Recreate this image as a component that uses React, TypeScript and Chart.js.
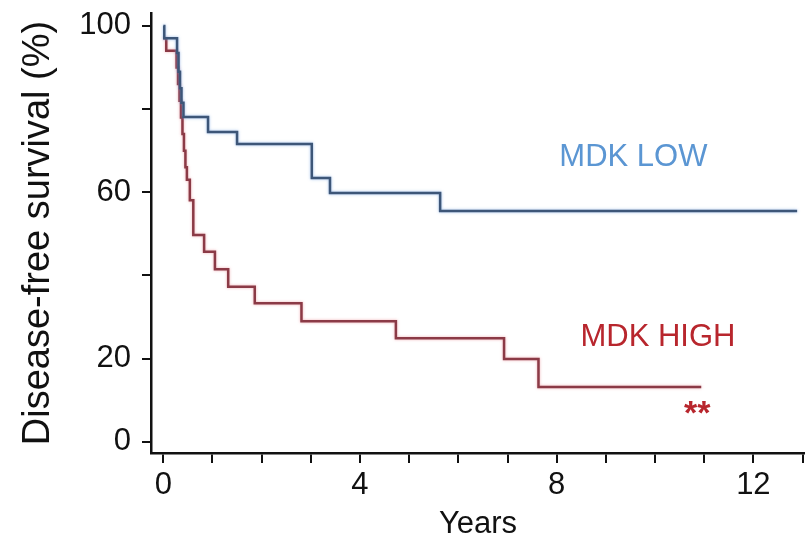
import { useEffect, useRef } from 'react';
import { Chart, registerables } from 'chart.js';

Chart.register(...registerables);

// Kaplan–Meier step data (time in years, survival %)
const lowTimes = [0, 0.02, 0.28, 0.31, 0.34, 0.37, 0.41, 0.91, 1.5, 3.02, 3.39, 5.63, 12.89];
const lowSurvival = [100, 97, 93.5, 89, 85, 81.5, 78.1, 74.5, 71.6, 63.4, 59.8, 55.5, 55.5];

const highTimes = [0, 0.06, 0.27, 0.3, 0.33, 0.36, 0.39, 0.42, 0.45, 0.48, 0.54, 0.61, 0.83, 1.05, 1.32, 1.86, 2.81, 4.73, 6.93, 7.63, 10.94];
const highSurvival = [97, 94, 90, 86, 82, 78, 74, 70, 66, 63, 58.1, 49.7, 45.7, 41.5, 37.3, 33.3, 29.0, 24.9, 19.9, 13.2, 13.2];

const xTickValues = [0, 1, 2, 3, 4, 5, 6, 7, 8, 9, 10, 11, 12, 13];
const xTickLabels = ['0', '', '', '', '4', '', '', '', '8', '', '', '', '12', ''];
const yTickValues = [0, 20, 40, 60, 80, 100];
const yTickLabels = ['0', '20', '', '60', '', '100'];

const groupNames = ['MDK LOW', 'MDK HIGH'];
const significanceText = '**';

const FONT = '"Liberation Sans", Arial, Helvetica, sans-serif';

const LOW_LINE = '#3d5678';
const HIGH_LINE = '#8b3a46';
const LOW_TEXT = '#5b96d3';
const HIGH_TEXT = '#b8262d';

const haloPlugin = {
  id: 'halo',
  beforeDatasetDraw(chart: any, args: any) {
    const ctx = chart.ctx;
    ctx.save();
    ctx.shadowColor = args.index === 0 ? 'rgba(110,160,225,0.7)' : 'rgba(230,120,130,0.6)';
    ctx.shadowBlur = 3;
  },
  afterDatasetDraw(chart: any) {
    chart.ctx.restore();
  },
};

const labelPlugin = {
  id: 'kmLabels',
  afterDatasetsDraw(chart: any) {
    const { ctx, scales } = chart;
    const x = scales.x;
    const y = scales.y;
    ctx.save();
    ctx.textAlign = 'center';
    ctx.textBaseline = 'middle';
    ctx.font = '31px ' + FONT;
    ctx.fillStyle = LOW_TEXT;
    ctx.fillText(groupNames[0], x.getPixelForValue(9.56), y.getPixelForValue(68.4));
    ctx.fillStyle = HIGH_TEXT;
    ctx.fillText(groupNames[1], x.getPixelForValue(10.06), y.getPixelForValue(25.1));
    ctx.font = 'bold 34px ' + FONT;
    ctx.textBaseline = 'alphabetic';
    ctx.fillText(significanceText, x.getPixelForValue(10.86), y.getPixelForValue(7.9) + 15);
    ctx.restore();
  },
};

export default function App() {
  const ref = useRef<HTMLCanvasElement | null>(null);

  useEffect(() => {
    const canvas = ref.current;
    if (!canvas) return;
    const chart = new Chart(canvas, {
      type: 'line',
      data: {
        datasets: [
          {
            label: groupNames[0],
            data: lowTimes.map((t, i) => ({ x: t, y: lowSurvival[i] })),
            borderColor: LOW_LINE,
            borderWidth: 2.5,
            stepped: 'before',
            pointRadius: 0,
            fill: false,
          },
          {
            label: groupNames[1],
            data: highTimes.map((t, i) => ({ x: t, y: highSurvival[i] })),
            borderColor: HIGH_LINE,
            borderWidth: 2.5,
            stepped: 'before',
            pointRadius: 0,
            fill: false,
          },
        ],
      },
      options: {
        responsive: false,
        animation: false,
        devicePixelRatio: 1,
        layout: { padding: { top: 13, left: 0, right: 0, bottom: 0 } },
        plugins: {
          legend: { display: false },
          tooltip: { enabled: false },
        },
        scales: {
          x: {
            type: 'linear',
            min: -0.25,
            max: 13.05,
            afterBuildTicks: (axis: any) => {
              axis.ticks = xTickValues.map((v) => ({ value: v }));
            },
            afterFit: (scale: any) => {
              scale.height = 91;
              scale.paddingLeft = 0;
              scale.paddingRight = 0;
            },
            ticks: {
              autoSkip: false,
              maxRotation: 0,
              padding: 7,
              color: '#111',
              font: { family: FONT, size: 31, lineHeight: 1 },
              callback: (v: any) => {
                const i = xTickValues.indexOf(Number(v));
                return i >= 0 ? xTickLabels[i] : '';
              },
            },
            grid: {
              drawOnChartArea: false,
              drawTicks: true,
              tickLength: 10,
              color: '#111',
              lineWidth: 2,
            },
            border: { display: true, color: '#111', width: 2.5 },
            title: {
              display: true,
              text: 'Years',
              color: '#111',
              font: { family: FONT, size: 31, lineHeight: 1 },
              padding: { top: 0, bottom: 4.5 },
            },
          },
          y: {
            type: 'linear',
            min: -2.7,
            max: 103.1,
            afterBuildTicks: (axis: any) => {
              axis.ticks = yTickValues.map((v) => ({ value: v }));
            },
            afterFit: (scale: any) => {
              scale.width = 151;
              scale.paddingTop = 0;
              scale.paddingBottom = 0;
            },
            ticks: {
              autoSkip: false,
              padding: 11,
              color: '#111',
              font: { family: FONT, size: 31, lineHeight: 1 },
              callback: (v: any) => {
                const i = yTickValues.indexOf(Number(v));
                return i >= 0 ? yTickLabels[i] : '';
              },
            },
            grid: {
              drawOnChartArea: false,
              drawTicks: true,
              tickLength: 9,
              color: '#111',
              lineWidth: 2,
            },
            border: { display: true, color: '#111', width: 2.5 },
            title: {
              display: true,
              text: 'Disease-free survival (%)',
              color: '#111',
              font: { family: FONT, size: 38, lineHeight: 1 },
              padding: { top: 20, bottom: 0 },
            },
          },
        },
      } as any,
      plugins: [haloPlugin, labelPlugin],
    });
    return () => chart.destroy();
  }, []);

  return (
    <div style={{ position: 'fixed', left: 0, top: 0, width: 805, height: 544, background: '#fff' }}>
      <canvas ref={ref} width={805} height={544} style={{ display: 'block' }} />
    </div>
  );
}
